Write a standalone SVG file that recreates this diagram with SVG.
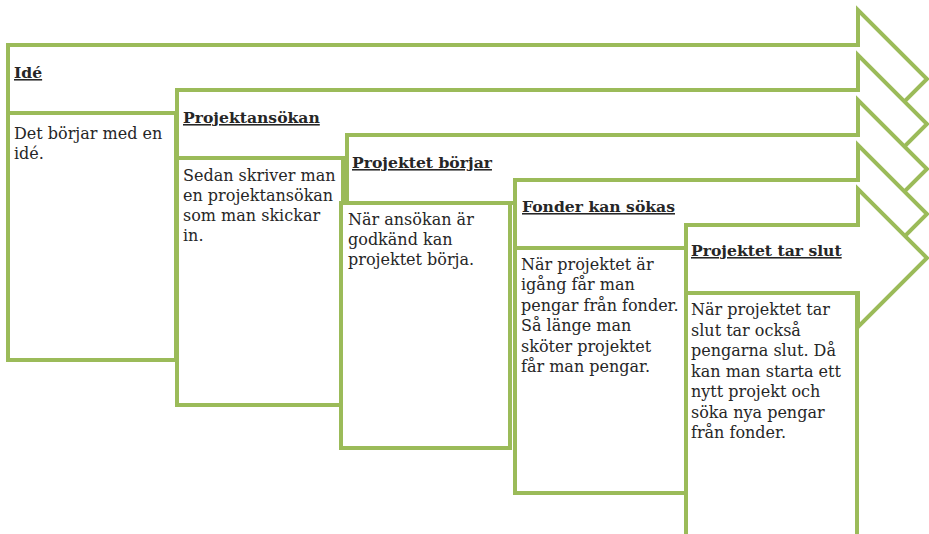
<svg xmlns="http://www.w3.org/2000/svg" width="929" height="534" viewBox="0 0 929 534">
<style>
.sh{fill:#fff;stroke:#9bbb59;stroke-width:4;stroke-linejoin:miter}
.h{font-family:"DejaVu Serif",serif;font-size:15.6px;font-weight:bold;fill:#262626;text-decoration:underline}
.t{font-family:"DejaVu Serif",serif;font-size:16px;fill:#262626}
</style>
<rect width="929" height="534" fill="#fff"/>
<g id="node-ide">
<path class="sh" d="M8 45 H858 V10 L927 79 L858 148 V113 H8 Z"/>
<rect class="sh" x="8" y="113" width="168" height="247"/>
<text class="h" x="14" y="78">Idé</text>
<text class="t" x="14" y="139">Det börjar med en</text>
<text class="t" x="14" y="159">idé.</text>
</g>
<g id="node-projektansokan">
<path class="sh" d="M177 90 H858 V55 L927 124 L858 193 V158 H177 Z"/>
<rect class="sh" x="177" y="158" width="166" height="247"/>
<text class="h" x="183" y="123">Projektansökan</text>
<text class="t" x="183" y="181">Sedan skriver man</text>
<text class="t" x="183" y="201">en projektansökan</text>
<text class="t" x="183" y="221">som man skickar</text>
<text class="t" x="183" y="241">in.</text>
</g>
<g id="node-projektet-borjar">
<path class="sh" d="M347 135 H858 V100 L927 169 L858 238 V203 H347 Z"/>
<rect class="sh" x="341" y="203" width="169" height="245"/>
<text class="h" x="352" y="168">Projektet börjar</text>
<text class="t" x="348" y="225">När ansökan är</text>
<text class="t" x="348" y="245">godkänd kan</text>
<text class="t" x="348" y="265">projektet börja.</text>
</g>
<g id="node-fonder">
<path class="sh" d="M515 180 H858 V145 L927 214 L858 283 V248 H515 Z"/>
<rect class="sh" x="515" y="248" width="171" height="245"/>
<text class="h" x="522" y="212">Fonder kan sökas</text>
<text class="t" x="521" y="270">När projektet är</text>
<text class="t" x="521" y="290">igång får man</text>
<text class="t" x="521" y="311">pengar från fonder.</text>
<text class="t" x="521" y="331">Så länge man</text>
<text class="t" x="521" y="352">sköter projektet</text>
<text class="t" x="521" y="372">får man pengar.</text>
</g>
<g id="node-slut">
<path class="sh" d="M686 225 H858 V189 L927 258 L858 327 V293 H686 Z"/>
<rect class="sh" x="686" y="293" width="171" height="250"/>
<text class="h" x="691" y="256">Projektet tar slut</text>
<text class="t" x="691" y="315">När projektet tar</text>
<text class="t" x="691" y="336">slut tar också</text>
<text class="t" x="691" y="356">pengarna slut. Då</text>
<text class="t" x="691" y="377">kan man starta ett</text>
<text class="t" x="691" y="397">nytt projekt och</text>
<text class="t" x="691" y="418">söka nya pengar</text>
<text class="t" x="691" y="438">från fonder.</text>
</g>
</svg>
